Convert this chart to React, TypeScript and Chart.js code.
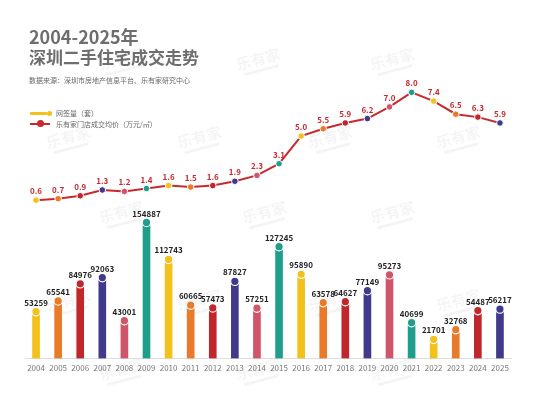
import React, { useEffect, useRef } from "react";
import { Chart, registerables } from "chart.js";

Chart.register(...registerables);

const years = [
  "2004", "2005", "2006", "2007", "2008", "2009", "2010", "2011", "2012", "2013", "2014",
  "2015", "2016", "2017", "2018", "2019", "2020", "2021", "2022", "2023", "2024", "2025",
];
const transactions = [
  53259, 65541, 84976, 92063, 43001, 154887, 112743, 60665, 57473, 87827, 57251,
  127245, 95890, 63578, 64627, 77149, 95273, 40699, 21701, 32768, 54487, 56217,
];
const prices = [
  0.6, 0.7, 0.9, 1.3, 1.2, 1.4, 1.6, 1.5, 1.6, 1.9, 2.3,
  3.1, 5.0, 5.5, 5.9, 6.2, 7.0, 8.0, 7.4, 6.5, 6.3, 5.9,
];
const palette = ["#f2c11c", "#e97a2a", "#c1262d", "#41398c", "#d0546a", "#1f9f8b"];
const colors = years.map((_, i) => palette[i % palette.length]);

const FONT = "'Noto Sans CJK SC', 'Noto Sans', sans-serif";
const LINE_RED = "#c62a2f";

const watermarkSpots: [number, number][] = [
  [122, 62], [259, 62], [393, 62],
  [69, 140], [200, 140], [331, 140], [459, 140],
  [122, 215], [265, 215], [393, 215],
  [69, 303], [200, 303], [331, 303], [459, 303],
  [122, 372], [259, 372], [393, 372],
];

const watermarkPlugin = {
  id: "watermark",
  beforeDraw(chart: any) {
    const ctx = chart.ctx;
    ctx.save();
    watermarkSpots.forEach(([x, y]) => {
      ctx.save();
      ctx.translate(x, y);
      ctx.rotate(-0.26);
      ctx.fillStyle = "rgba(0,0,0,0.045)";
      ctx.font = `bold 15px ${FONT}`;
      ctx.textAlign = "center";
      ctx.textBaseline = "middle";
      ctx.fillText("乐有家", 0, -3);
      ctx.fillRect(-18, 7, 36, 3);
      ctx.restore();
    });
    ctx.restore();
  },
};

const labelPlugin = {
  id: "valueLabels",
  afterDatasetsDraw(chart: any) {
    const ctx = chart.ctx;
    ctx.save();
    ctx.textAlign = "center";
    ctx.textBaseline = "middle";
    ctx.font = `bold 8px ${FONT}`;
    ctx.fillStyle = "#222";
    chart.getDatasetMeta(1).data.forEach((pt: any, i: number) => {
      ctx.fillText(String(transactions[i]), pt.x, pt.y - 9);
    });
    ctx.fillStyle = LINE_RED;
    chart.getDatasetMeta(2).data.forEach((pt: any, i: number) => {
      ctx.fillText(prices[i].toFixed(1), pt.x, pt.y - 9);
    });
    ctx.restore();
  },
};

export default function App() {
  const canvasRef = useRef<HTMLCanvasElement | null>(null);

  useEffect(() => {
    if (!canvasRef.current) return;
    const chart = new Chart(canvasRef.current, {
      type: "bar",
      data: {
        labels: years,
        datasets: [
          {
            type: "bar",
            label: "网签量（套）",
            data: transactions,
            backgroundColor: colors,
            yAxisID: "y",
            barThickness: 7,
            order: 3,
          } as any,
          {
            type: "line",
            label: "tops",
            data: transactions,
            yAxisID: "y",
            showLine: false,
            pointRadius: 4.2,
            pointBackgroundColor: colors,
            pointBorderColor: "#ffffff",
            pointBorderWidth: 1.2,
            order: 2,
          } as any,
          {
            type: "line",
            label: "乐有家门店成交均价（万元/㎡）",
            data: prices,
            yAxisID: "y1",
            borderColor: LINE_RED,
            borderWidth: 2,
            pointRadius: 3.3,
            pointBackgroundColor: colors,
            pointBorderColor: "#ffffff",
            pointBorderWidth: 1,
            order: 1,
          } as any,
        ],
      },
      options: {
        responsive: false,
        animation: false,
        devicePixelRatio: 1,
        layout: { padding: { left: 25, right: 23, top: 60, bottom: 19 } },
        plugins: {
          legend: { display: false },
          tooltip: { enabled: false },
        },
        scales: {
          x: {
            grid: { display: false, drawTicks: false },
            border: { display: true, color: "#dddddd", width: 1 },
            ticks: {
              font: { size: 8, family: FONT },
              color: "#777777",
              padding: 5,
              maxRotation: 0,
              autoSkip: false,
            },
          },
          y: { display: false, min: 0, max: 340000 },
          y1: { display: false, min: -10.26, max: 10.22 },
        },
      },
      plugins: [watermarkPlugin, labelPlugin],
    });
    return () => chart.destroy();
  }, []);

  const text: React.CSSProperties = { position: "absolute", fontFamily: FONT, whiteSpace: "nowrap", margin: 0 };

  return (
    <div style={{ position: "fixed", left: 0, top: 0, width: 534, height: 397, background: "#ffffff", overflow: "hidden" }}>
      <canvas ref={canvasRef} width={534} height={397} style={{ position: "absolute", left: 0, top: 0 }} />
      <div style={{ ...text, left: 29, top: 25, fontSize: 18, fontWeight: 700, color: "#6e6e6e", lineHeight: "22px" }}>2004-2025年</div>
      <div style={{ ...text, left: 29, top: 46, fontSize: 17, fontWeight: 700, color: "#6e6e6e", lineHeight: "22px" }}>深圳二手住宅成交走势</div>
      <div style={{ ...text, left: 29, top: 75, fontSize: 7, color: "#666666", lineHeight: "10px" }}>数据来源：深圳市房地产信息平台、乐有家研究中心</div>
      {/* legend */}
      <div style={{ position: "absolute", left: 30, top: 111.5, width: 17, height: 3, background: "#f2c11c", borderRadius: 1 }} />
      <div style={{ position: "absolute", left: 46.5, top: 110.5, width: 5, height: 5, background: "#f2c11c", borderRadius: "50%" }} />
      <div style={{ ...text, left: 56, top: 108, fontSize: 7, color: "#666666", lineHeight: "10px" }}>网签量（套）</div>
      <div style={{ position: "absolute", left: 30, top: 123, width: 20, height: 1.6, background: LINE_RED }} />
      <div style={{ position: "absolute", left: 36.5, top: 120.3, width: 7, height: 7, background: LINE_RED, borderRadius: "50%" }} />
      <div style={{ ...text, left: 56, top: 119, fontSize: 7, color: "#666666", lineHeight: "10px" }}>乐有家门店成交均价（万元/㎡）</div>
    </div>
  );
}
